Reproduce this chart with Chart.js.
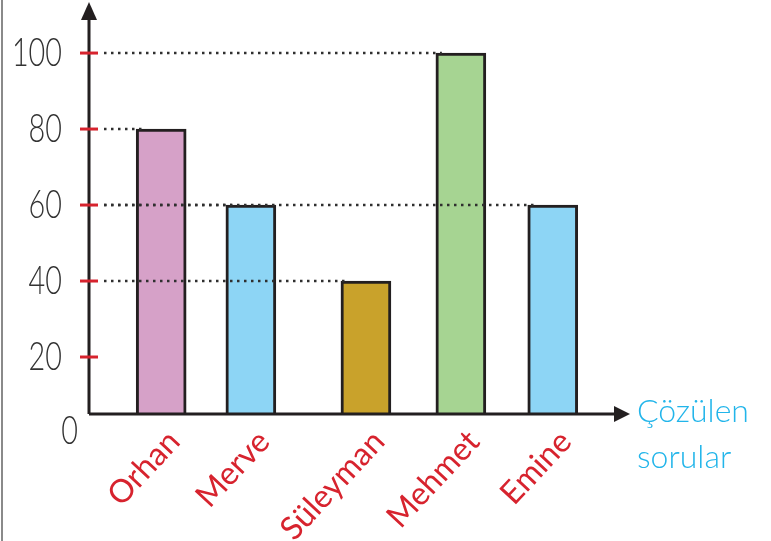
<!DOCTYPE html>
<html>
<head>
<meta charset="utf-8">
<script src="https://cdn.jsdelivr.net/npm/chart.js@4.4.0/dist/chart.umd.min.js"></script>
<style>
  html, body { margin: 0; padding: 0; background: #fff; }
  #wrap { width: 771px; height: 541px; position: relative; }
</style>
</head>
<body>
<div id="wrap"><canvas id="grafik" width="771" height="541"></canvas></div>
<script>
// Veriler
var isimler = ['Orhan', 'Merve', 'Süleyman', 'Mehmet', 'Emine'];
var cozulen = [80, 60, 40, 100, 60];
var sira = [1.65, 3.7, 6.33, 8.5, 10.6];      // bar places along the x axis
var renkler = ['#d6a1c8', '#8dd5f5', '#c9a22b', '#a6d492', '#8dd5f5'];
var yEtiketler = [0, 20, 40, 60, 80, 100];
var xBaslik = ['Çözülen', 'sorular'];

var KIRMIZI = '#d7232e';
var KOYU = '#231f20';

// Axes, arrows, ticks, guides and labels drawn on top of the library scales
var eksenPlugin = {
    id: 'eksen',
    afterDatasetsDraw: function(chart) {
        var ctx = chart.ctx;
        var y = chart.scales.y;
        var area = chart.chartArea;
        var meta = chart.getDatasetMeta(0);

        ctx.save();

        // dotted guides from the y axis to every bar top
        ctx.strokeStyle = '#2f2f2f';
        ctx.lineWidth = 2.5;
        ctx.setLineDash([2.5, 4.5]);
        meta.data.forEach(function(bar, i) {
            var py = y.getPixelForValue(cozulen[i]);
            ctx.beginPath();
            ctx.moveTo(area.left + 15, py);
            ctx.lineTo(bar.x - bar.width / 2 + 6, py);
            ctx.stroke();
        });
        ctx.setLineDash([]);

        // axes
        ctx.strokeStyle = KOYU;
        ctx.fillStyle = KOYU;
        ctx.lineWidth = 3;
        ctx.beginPath();
        ctx.moveTo(area.left, area.bottom);
        ctx.lineTo(area.left, area.top);
        ctx.moveTo(area.left, area.bottom);
        ctx.lineTo(area.right, area.bottom);
        ctx.stroke();

        ctx.beginPath();
        ctx.moveTo(area.left, area.top - 18);
        ctx.lineTo(area.left - 8, area.top);
        ctx.lineTo(area.left + 8, area.top);
        ctx.closePath();
        ctx.fill();

        ctx.beginPath();
        ctx.moveTo(area.right + 16, area.bottom);
        ctx.lineTo(area.right, area.bottom - 8);
        ctx.lineTo(area.right, area.bottom + 8);
        ctx.closePath();
        ctx.fill();

        // red tick marks and y labels
        ctx.font = '300 40px Lato';
        ctx.textBaseline = 'middle';
        ctx.textAlign = 'right';
        yEtiketler.forEach(function(v) {
            var py = y.getPixelForValue(v);
            if (v > 0) {
                ctx.strokeStyle = KIRMIZI;
                ctx.lineWidth = 3;
                ctx.beginPath();
                ctx.moveTo(area.left - 9, py);
                ctx.lineTo(area.left + 9, py);
                ctx.stroke();
            }
            var rx = v === 0 ? area.left - 11 : area.left - 27;
            ctx.save();
            ctx.translate(rx, v === 0 ? py - 2 : py);
            ctx.scale(0.72, 1);
            ctx.fillStyle = '#333';
            ctx.fillText(String(v), 0, 0);
            ctx.restore();
        });

        // rotated names under the bars
        ctx.font = '32px Lato';
        ctx.fillStyle = KIRMIZI;
        ctx.textAlign = 'right';
        ctx.textBaseline = 'middle';
        meta.data.forEach(function(bar, i) {
            ctx.save();
            ctx.translate(bar.x + 13, area.bottom + 22);
            ctx.rotate(-0.82);
            ctx.fillText(isimler[i], 0, 0);
            ctx.restore();
        });

        // x axis caption
        ctx.font = '300 32px Lato';
        ctx.fillStyle = '#22b5ea';
        ctx.textAlign = 'left';
        ctx.textBaseline = 'middle';
        ctx.fillText(xBaslik[0], area.right + 23, area.bottom - 2);
        ctx.fillText(xBaslik[1], area.right + 23, area.bottom + 44);

        // frame line on the far left
        ctx.strokeStyle = '#8a8a8a';
        ctx.lineWidth = 2;
        ctx.beginPath();
        ctx.moveTo(2, 0);
        ctx.lineTo(2, 541);
        ctx.stroke();

        ctx.restore();
    }
};

new Chart(document.getElementById('grafik').getContext('2d'), {
    type: 'bar',
    data: {
        datasets: [{
            data: sira.map(function(s, i) { return { x: s, y: cozulen[i] }; }),
            backgroundColor: renkler,
            borderColor: KOYU,
            borderWidth: 3,
            borderSkipped: false,
            barThickness: 50
        }]
    },
    options: {
        responsive: false,
        animation: false,
        events: [],
        layout: { padding: { top: 20, bottom: 127, left: 0, right: 157 } },
        plugins: {
            legend: { display: false },
            tooltip: { enabled: false }
        },
        scales: {
            x: {
                type: 'linear',
                offset: false,
                min: 0,
                max: 12,
                grid: { display: false, drawTicks: false },
                border: { display: false },
                ticks: { display: false }
            },
            y: {
                min: 5,
                max: 108.7,
                grid: { display: false, drawTicks: false },
                border: { display: false },
                ticks: { display: false },
                afterFit: function(scale) { scale.width = 89; }
            }
        }
    },
    plugins: [eksenPlugin]
});
</script>
</body>
</html>
